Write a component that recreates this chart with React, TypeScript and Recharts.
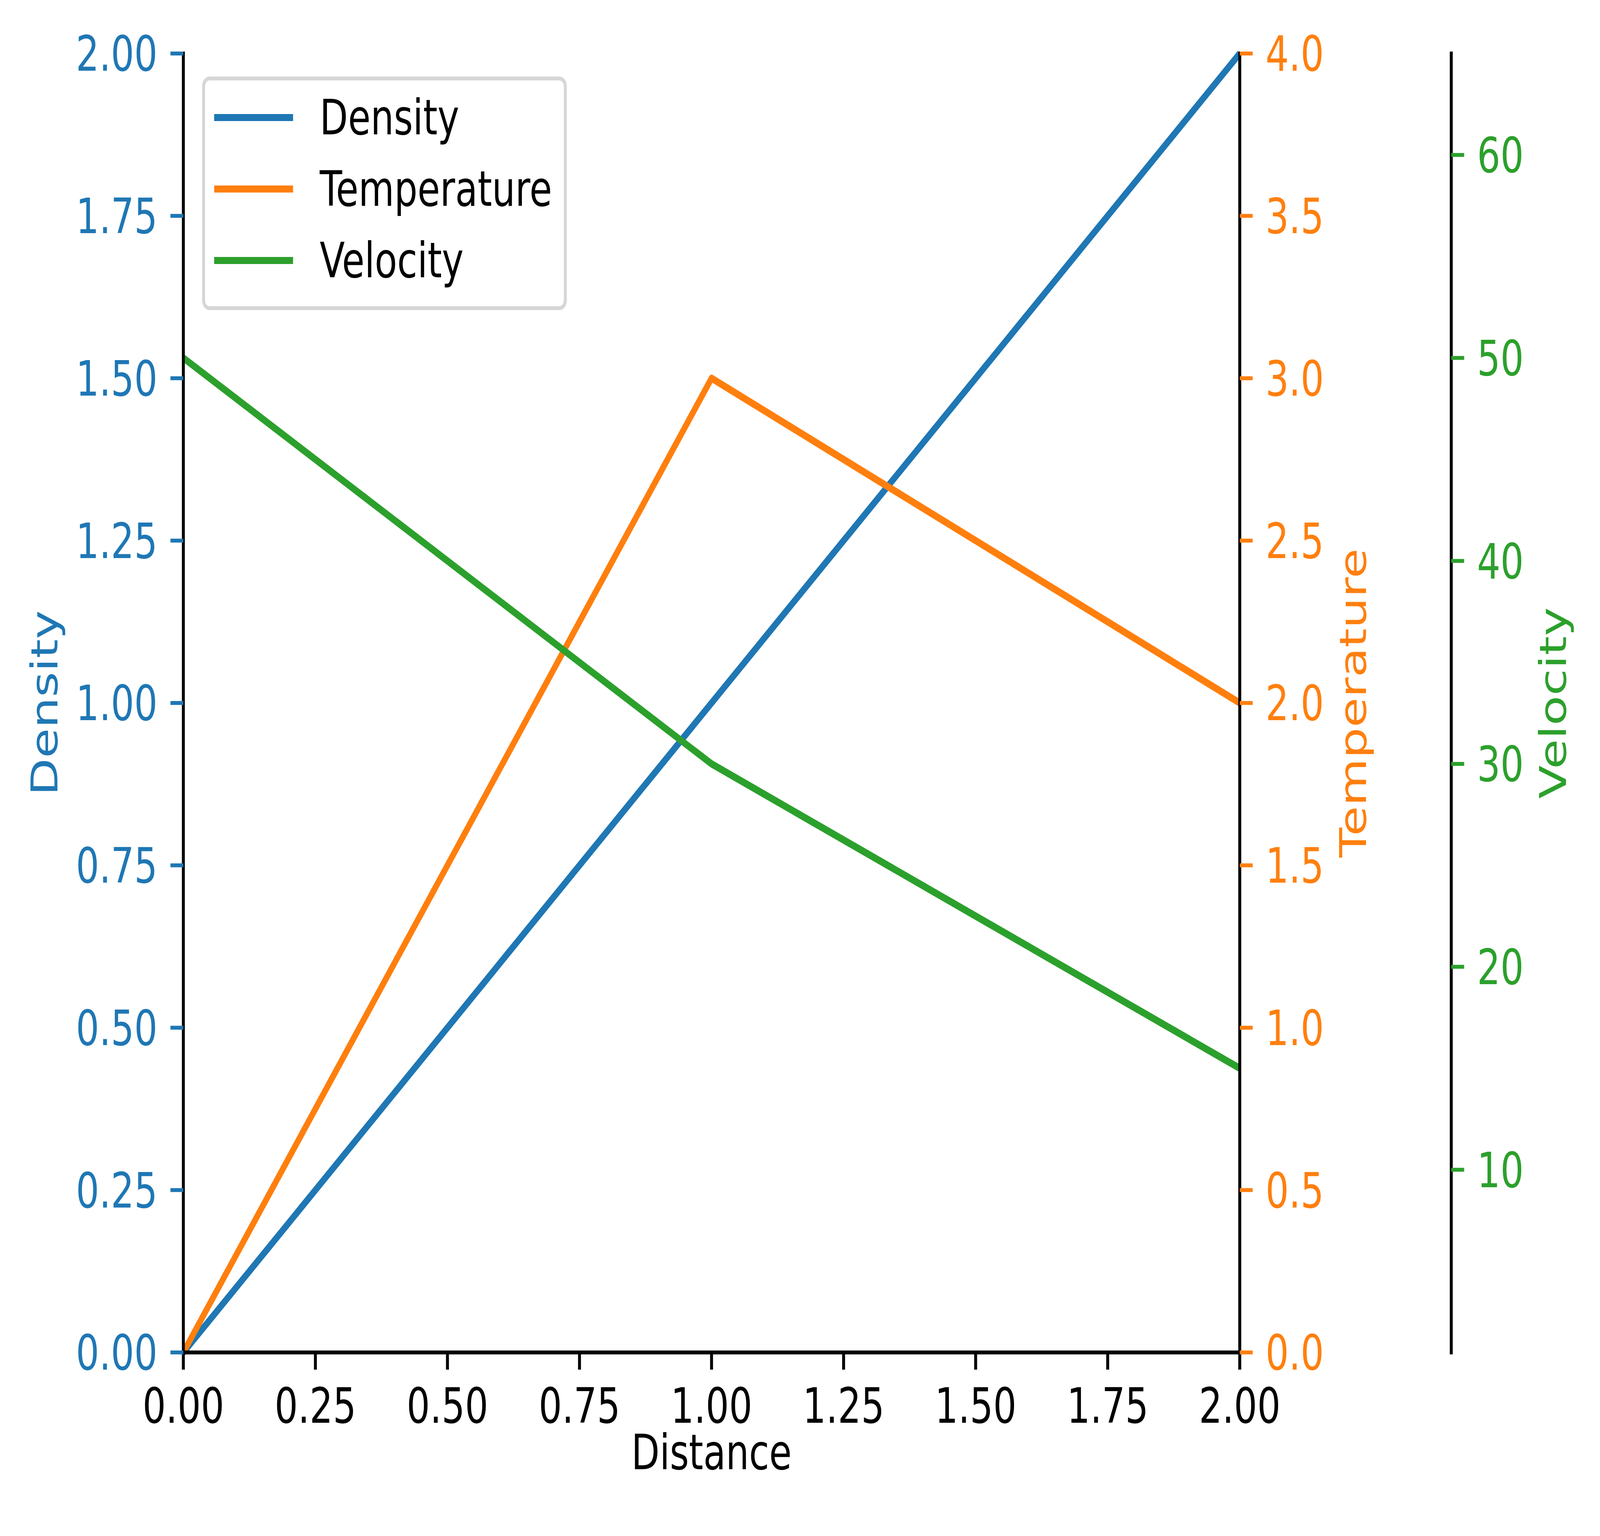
import { LineChart, Line, XAxis, YAxis, Legend } from "recharts";

const distance = [0, 1, 2];
const density = [0, 1, 2];
const temperature = [0, 3, 2];
const velocity = [50, 30, 15];

const xTicks = [0, 0.25, 0.5, 0.75, 1, 1.25, 1.5, 1.75, 2];
const densityTicks = [0, 0.25, 0.5, 0.75, 1, 1.25, 1.5, 1.75, 2];
const temperatureTicks = [0, 0.5, 1, 1.5, 2, 2.5, 3, 3.5, 4];
const velocityTicks = [10, 20, 30, 40, 50, 60];

const BLUE = "#1f77b4";
const ORANGE = "#ff7f0e";
const GREEN = "#2ca02c";
const FONT = "DejaVu Sans";

// design size of the figure; the browser caps its viewport, so the whole
// figure is scaled to fill whatever viewport we actually get
const W = 5454;
const H = 3933;

const FS = 125;
const SPINE = 10;
const TICK = 44;
const PAD = 44;
const LW = 18.75;

const series = [
  { key: "density", name: "Density", color: BLUE, axis: "density" },
  { key: "temperature", name: "Temperature", color: ORANGE, axis: "temperature" },
  { key: "velocity", name: "Velocity", color: GREEN, axis: "velocity" },
];

const data = distance.map((x, i) => ({
  x,
  density: density[i],
  temperature: temperature[i],
  velocity: velocity[i],
}));

const spine = { stroke: "#000", strokeWidth: SPINE, strokeLinecap: "square" as const };

// rotated title for a y axis, placed by its baseline offset from the axis box
const yTitle = (text: string, color: string, baseline: number) => (props: any) => {
  const vb = props.viewBox;
  if (!vb) return null;
  const x = vb.x + baseline;
  const y = vb.y + vb.height / 2;
  return (
    <text
      x={x}
      y={y}
      transform={`rotate(-90, ${x}, ${y})`}
      textAnchor="middle"
      fill={color}
      fontSize={FS}
      fontFamily={FONT}
    >
      {text}
    </text>
  );
};

const xTitle = (props: any) => {
  const vb = props.viewBox;
  if (!vb) return null;
  return (
    <text
      x={vb.x + vb.width / 2}
      y={vb.y + 299}
      textAnchor="middle"
      fill="#000"
      fontSize={FS}
      fontFamily={FONT}
    >
      Distance
    </text>
  );
};

const LegendBox = () => (
  <div
    style={{
      boxSizing: "border-box",
      width: 1243,
      height: 598,
      border: "10px solid #d6d6d6",
      borderRadius: 25,
      background: "rgba(255,255,255,0.8)",
      paddingTop: 3.5,
      fontFamily: FONT,
      fontSize: FS,
      color: "#000",
    }}
  >
    {series.map((s) => (
      <div key={s.key} style={{ height: 183, display: "flex", alignItems: "center" }}>
        <div style={{ width: 269, height: LW, background: s.color, marginLeft: 31 }} />
        <span style={{ marginLeft: 91, lineHeight: 1.164, whiteSpace: "nowrap" }}>{s.name}</span>
      </div>
    ))}
  </div>
);

export default function App() {
  const vw = typeof window !== "undefined" ? window.innerWidth : W;
  const vh = typeof window !== "undefined" ? window.innerHeight : H;
  const sx = Math.min(vw, W) / W;
  const sy = Math.min(vh, H) / H;

  return (
    <div
      style={{
        position: "absolute",
        left: 0,
        top: 0,
        width: W * sx,
        height: H * sy,
        overflow: "hidden",
        background: "#fff",
      }}
    >
      <div style={{ width: W, height: H, transform: `scale(${sx}, ${sy})`, transformOrigin: "0 0" }}>
        <LineChart width={W} height={H} data={data} margin={{ top: 137, right: 0, bottom: 0, left: 0 }}>
          <XAxis
            dataKey="x"
            type="number"
            domain={[0, 2]}
            ticks={xTicks}
            interval={0}
            allowDataOverflow
            height={470}
            tickFormatter={(v: number) => v.toFixed(2)}
            axisLine={spine}
            tickLine={{ stroke: "#000", strokeWidth: SPINE }}
            tickSize={TICK}
            tickMargin={PAD + 3}
            tick={{ fill: "#000", fontSize: FS, fontFamily: FONT }}
            label={xTitle}
          />
          <XAxis
            xAxisId="top"
            orientation="top"
            type="number"
            domain={[0, 2]}
            height={0}
            tick={false}
            tickLine={false}
            axisLine={spine}
          />
          <YAxis
            yAxisId="density"
            orientation="left"
            type="number"
            domain={[0, 2]}
            ticks={densityTicks}
            interval={0}
            width={625}
            tickFormatter={(v: number) => v.toFixed(2)}
            axisLine={spine}
            tickLine={{ stroke: BLUE, strokeWidth: SPINE }}
            tickSize={TICK}
            tickMargin={PAD}
            tick={{ fill: BLUE, fontSize: FS, fontFamily: FONT }}
            label={yTitle("Density", BLUE, 196)}
          />
          <YAxis
            yAxisId="temperature"
            orientation="right"
            type="number"
            domain={[0, 4]}
            ticks={temperatureTicks}
            interval={0}
            width={721}
            tickFormatter={(v: number) => v.toFixed(1)}
            axisLine={spine}
            tickLine={{ stroke: ORANGE, strokeWidth: SPINE }}
            tickSize={TICK}
            tickMargin={PAD}
            tick={{ fill: ORANGE, fontSize: FS, fontFamily: FONT }}
            label={yTitle("Temperature", ORANGE, 431)}
          />
          <YAxis
            yAxisId="velocity"
            orientation="right"
            type="number"
            domain={[1, 65]}
            ticks={velocityTicks}
            interval={0}
            width={507}
            axisLine={spine}
            tickLine={{ stroke: GREEN, strokeWidth: SPINE }}
            tickSize={TICK}
            tickMargin={PAD}
            tick={{ fill: GREEN, fontSize: FS, fontFamily: FONT }}
            label={yTitle("Velocity", GREEN, 391)}
          />
          <Legend
            layout="vertical"
            align="center"
            verticalAlign="middle"
            wrapperStyle={{ left: 689, top: 196, width: 1243, height: 598 }}
            content={() => <LegendBox />}
          />
          {series.map((s) => (
            <Line
              key={s.key}
              yAxisId={s.axis}
              type="linear"
              dataKey={s.key}
              name={s.name}
              stroke={s.color}
              strokeWidth={LW}
              strokeLinejoin="round"
              dot={false}
              activeDot={false}
              isAnimationActive={false}
            />
          ))}
        </LineChart>
      </div>
    </div>
  );
}
